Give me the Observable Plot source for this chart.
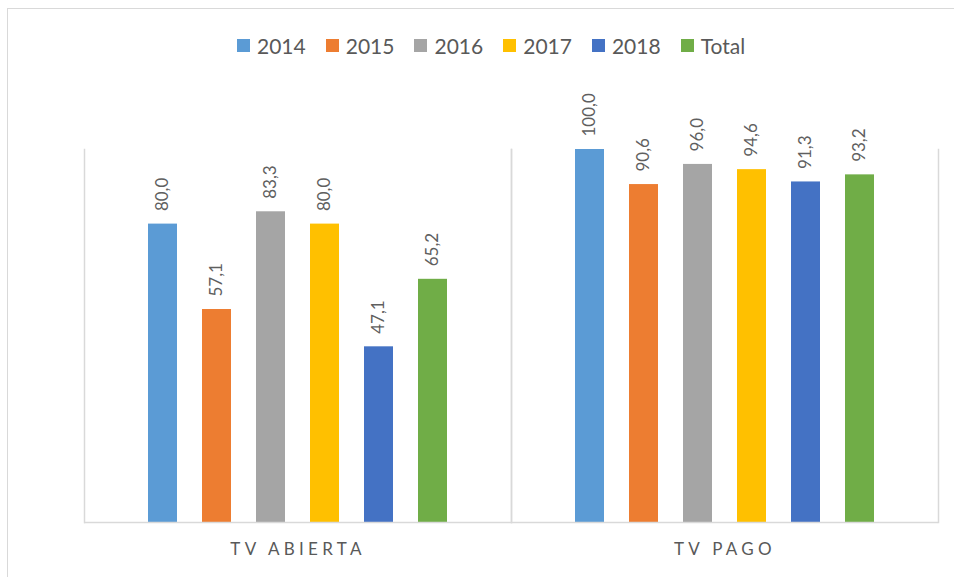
<!DOCTYPE html>
<html>
<head>
<meta charset="utf-8">
<script src="https://cdn.jsdelivr.net/npm/d3@7"></script>
<script src="https://cdn.jsdelivr.net/npm/@observablehq/plot@0.6"></script>
<style>
  html, body { margin: 0; padding: 0; background: #fff; }
  body { width: 954px; height: 577px; position: relative; overflow: hidden; font-family: Lato, "Open Sans", sans-serif; }
  #frame { position: absolute; left: 7px; top: 8px; width: 1000px; height: 700px; border: 1.5px solid #d9d9d9; box-sizing: border-box; }
  #chart { position: absolute; left: 0; top: 0; }
  #legend { position: absolute; left: 237px; top: 33px; display: flex; align-items: center; font-size: 21px; color: #595959; white-space: nowrap; }
  #legend .item { display: flex; align-items: center; margin-right: 20px; }
  #legend .sw { width: 13px; height: 13px; margin-right: 7px; }
  g[aria-label="fx-axis tick label"] text { letter-spacing: 4.3px; }
</style>
</head>
<body>
<div id="frame"></div>
<div id="chart"></div>
<div id="legend"></div>
<script>
const categories = ["TV ABIERTA", "TV PAGO"];
const series = ["2014", "2015", "2016", "2017", "2018", "Total"];
const colors = ["#5B9BD5", "#ED7D31", "#A5A5A5", "#FFC000", "#4472C4", "#70AD47"];
const tvAbierta = [80.0, 57.1, 83.3, 80.0, 47.1, 65.2];
const tvPago = [100.0, 90.6, 96.0, 94.6, 91.3, 93.2];

const data = [];
series.forEach((s, i) => {
  data.push({cat: categories[0], s, v: tvAbierta[i]});
  data.push({cat: categories[1], s, v: tvPago[i]});
});
const fmt = v => v.toFixed(1).replace(".", ",");

const chart = Plot.plot({
  width: 954,
  height: 577,
  marginTop: 149,
  marginBottom: 55,
  marginLeft: 84,
  marginRight: 16,
  style: {fontFamily: "Lato, 'Open Sans', sans-serif", fontSize: "16px", color: "#595959", background: "transparent"},
  fx: {domain: categories, padding: 0},
  x: {domain: series, paddingInner: 0.467, paddingOuter: 1.158, align: 0.5, axis: null},
  y: {domain: [0, 100], axis: null},
  color: {domain: series, range: colors},
  marks: [
    Plot.frame({anchor: "left", stroke: "#d9d9d9", strokeWidth: 1.5}),
    Plot.frame({anchor: "right", stroke: "#d9d9d9", strokeWidth: 1.5}),
    Plot.barY(data, {fx: "cat", x: "s", y: "v", fill: "s"}),
    Plot.ruleY([0], {stroke: "#d9d9d9", strokeWidth: 1.5}),
    Plot.text(data, {fx: "cat", x: "s", y: "v", text: d => fmt(d.v), rotate: -90, textAnchor: "start", lineAnchor: "middle", dy: -13, fontSize: 17, fill: "#5f5f5f"}),
    Plot.axisFx({anchor: "bottom", tickSize: 0, tickPadding: 20, label: null, fontSize: 17, fill: "#595959"})
  ]
});
document.getElementById("chart").appendChild(chart);

const legend = document.getElementById("legend");
series.forEach((s, i) => {
  const item = document.createElement("div");
  item.className = "item";
  const sw = document.createElement("span");
  sw.className = "sw";
  sw.style.background = colors[i];
  const t = document.createElement("span");
  t.textContent = s;
  item.appendChild(sw);
  item.appendChild(t);
  legend.appendChild(item);
});
</script>
</body>
</html>
